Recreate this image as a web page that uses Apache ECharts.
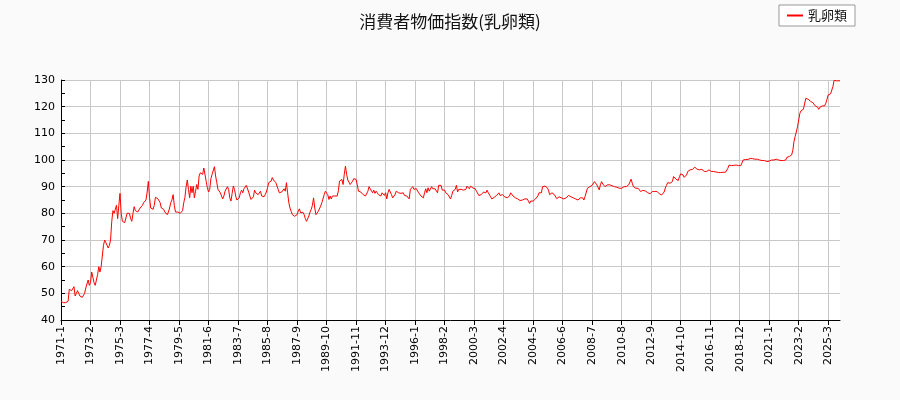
<!DOCTYPE html>
<html>
<head>
<meta charset="utf-8">
<script src="https://cdn.jsdelivr.net/npm/echarts@6/dist/echarts.min.js"></script>
<style>html,body{margin:0;padding:0;background:#fafafa}#c{width:900px;height:400px}</style>
</head>
<body>
<div id="c"></div>
<script>
const titleText = '消費者物価指数(乳卵類)';
const seriesName = '乳卵類';
const startYear = 1971, startMonth = 1;
const yTicks = [40, 50, 60, 70, 80, 90, 100, 110, 120, 130];

const v1970s = [
  47.0, 46.5, 46.5, 46.0, 46.5, 47.0, 47.0, 51.5, 51.0, 51.0, 51.5, 52.5,
  49.0, 50.0, 51.0, 50.0, 49.0, 48.5, 48.5, 49.0, 50.0, 52.0, 53.5, 55.0,
  53.0, 54.0, 58.0, 56.0, 54.0, 53.0, 53.5, 57.0, 60.0, 58.0, 60.0, 64.0,
  68.0, 70.0, 69.0, 69.0, 67.0, 68.0, 70.0, 77.0, 81.0, 80.0, 81.5, 83.0,
  78.0, 83.0, 87.5, 80.0, 77.0, 76.5, 76.5, 76.0, 80.0, 80.0, 80.0, 78.0,
  77.0, 80.0, 82.5, 81.0, 81.0, 80.5, 81.0, 82.0, 82.5, 83.0, 84.0, 84.5,
  85.0, 88.0, 92.0, 86.0, 82.0, 81.5, 81.5, 83.0, 86.0, 85.5, 85.5, 86.0,
  84.0, 82.0, 81.5, 81.5, 80.5, 80.0, 79.5, 80.5, 82.0, 84.0, 85.0, 87.0,
  83.0, 80.5, 81.0, 80.5, 80.5, 80.0, 80.5, 81.0, 84.0, 86.0, 90.0, 92.5
];
const v1980s = [
  89.0, 85.8, 90.2, 87.7, 90.2, 85.8, 88.3, 90.8, 89.0, 94.0, 95.2, 95.9,
  94.6, 97.0, 97.7, 92.0, 89.6, 88.0, 89.0, 93.0, 94.6, 95.2, 97.5, 94.0,
  91.5, 89.0, 88.3, 87.7, 86.5, 85.4, 86.5, 88.3, 89.0, 90.0, 89.0, 85.8,
  84.6, 87.5, 90.2, 89.0, 86.5, 85.0, 85.2, 85.8, 87.7, 88.7, 87.7, 89.2,
  89.6, 90.5, 90.2, 88.0, 86.5, 85.2, 84.6, 86.2, 88.7, 87.7, 88.3, 87.0,
  86.5, 88.3, 86.5, 87.0, 86.2, 87.0, 88.0, 89.6, 91.5, 91.7, 92.1, 93.4,
  92.5, 92.1, 91.5, 91.5, 89.0, 87.7, 87.5, 88.0, 87.7, 89.2, 88.3, 91.5,
  87.7, 84.0, 82.0, 80.8, 79.5, 78.9, 78.9, 79.2, 79.5, 80.8, 81.7, 80.2,
  79.8, 80.4, 79.5, 78.0, 77.0, 77.5, 79.0, 80.5, 81.5, 83.0, 85.8, 82.0,
  79.5, 80.2, 80.8, 81.4, 82.7, 84.0, 84.6, 87.0, 88.3, 89.0, 87.0, 85.2
];
const v1990s = [
  86.5, 85.4, 86.5, 85.8, 86.5, 85.8, 86.5, 88.5, 92.1, 91.5, 92.7, 90.8,
  94.6, 97.7, 94.6, 92.5, 91.7, 90.8, 91.5, 92.0, 93.0, 93.7, 92.7, 90.8,
  88.3, 88.7, 88.0, 87.5, 87.0, 87.0, 86.5, 86.2, 88.3, 90.0, 89.2, 89.2,
  87.7, 88.7, 87.5, 88.3, 87.7, 87.0, 87.7, 86.5, 87.7, 87.0, 86.7, 87.7,
  85.4, 87.7, 89.0, 88.3, 87.0, 85.8, 85.4, 87.0, 88.3, 88.7, 87.7, 88.0,
  87.5, 87.5, 87.7, 86.7, 86.7, 86.5, 85.8, 85.4, 89.0, 89.2, 90.0, 89.0,
  89.6, 89.3, 89.0, 87.7, 87.0, 86.5, 86.5, 85.8, 87.7, 89.2, 87.7, 89.6,
  88.3, 89.0, 90.0, 89.2, 88.7, 89.2, 88.7, 87.7, 90.5, 90.5, 90.5, 88.7,
  88.2, 88.7, 87.7, 88.0, 87.0, 86.5, 85.4, 86.7, 88.3, 88.3, 89.0, 90.5,
  88.0, 89.0, 88.3, 89.0, 89.6, 88.7, 88.0, 89.0, 90.2, 89.6, 89.2, 90.2
];
const v2000s = [
  90.0, 89.5, 90.0, 89.2, 88.3, 87.7, 86.7, 86.7, 87.0, 87.5, 88.0, 88.0,
  87.7, 88.7, 87.7, 87.0, 86.2, 85.4, 85.4, 86.0, 86.5, 86.7, 87.0, 87.7,
  86.7, 86.2, 87.0, 86.7, 86.2, 86.5, 85.8, 85.4, 86.5, 87.7, 88.0, 86.5,
  86.2, 85.8, 85.8, 85.4, 85.2, 84.8, 84.6, 85.0, 85.4, 85.4, 85.8, 85.4,
  84.6, 83.7, 84.6, 84.6, 84.6, 84.6, 85.4, 85.4, 86.5, 87.7, 88.3, 87.7,
  90.0, 90.5, 90.2, 90.5, 89.6, 88.7, 87.0, 86.5, 87.7, 87.0, 87.0, 86.5,
  85.5, 85.2, 86.2, 86.2, 85.8, 85.8, 85.4, 85.2, 85.8, 86.5, 86.7, 86.5,
  86.2, 86.0, 85.8, 85.8, 85.4, 85.2, 85.0, 85.0, 85.8, 85.8, 85.8, 85.0,
  86.3, 86.6, 89.4, 89.8, 90.0, 90.0, 90.5, 91.0, 91.9, 91.3, 90.7, 91.3,
  88.8, 90.7, 91.9, 91.0, 90.7, 90.0, 89.8, 90.7, 91.0, 90.7, 91.0, 90.3
];
const v2010s = [
  90.2, 90.0, 89.8, 89.8, 89.4, 89.4, 89.2, 89.4, 89.8, 90.0, 90.3, 90.0,
  90.3, 90.7, 90.7, 92.8, 91.3, 90.0, 89.4, 89.4, 89.4, 89.4, 89.0, 88.2,
  88.8, 88.6, 88.6, 88.4, 88.2, 87.8, 87.6, 87.3, 87.6, 88.2, 88.6, 88.2,
  88.2, 88.2, 87.8, 87.3, 86.9, 86.9, 87.3, 88.0, 89.5, 90.5, 91.5, 91.9,
  91.3, 91.9, 91.9, 93.8, 93.5, 92.8, 92.5, 92.3, 93.8, 94.8, 94.8, 94.4,
  93.5, 93.2, 94.4, 95.7, 96.3, 96.3, 96.3, 96.5, 96.9, 97.3, 97.3, 96.5,
  96.3, 96.3, 96.5, 96.5, 96.3, 95.7, 95.7, 95.7, 96.0, 96.3, 96.0, 95.7,
  95.7, 95.7, 95.7, 95.5, 95.3, 95.3, 95.3, 95.3, 95.4, 95.4, 95.4, 95.4,
  95.4, 96.9, 98.1, 98.1, 97.9, 98.1, 98.0, 97.9, 98.1, 98.0, 97.9, 97.9,
  97.9, 97.8, 100.0, 100.3, 100.2, 100.0, 100.2, 100.3, 100.6, 100.6, 100.5, 100.3
];
const v2020s = [
  100.3, 100.3, 100.3, 100.2, 100.0, 100.0, 99.8, 99.8, 99.8, 99.6, 99.4, 99.4,
  99.6, 99.8, 100.0, 100.0, 100.0, 100.0, 100.3, 100.6, 100.0, 99.4, 99.8, 99.8,
  99.8, 100.3, 100.0, 101.0, 101.3, 101.3, 101.3, 101.9, 103.5, 106.9, 108.8, 110.5,
  112.5, 115.0, 117.5, 118.5, 118.8, 119.0, 119.0, 123.1, 123.1, 122.8, 122.5, 122.0,
  121.9, 121.5, 121.3, 120.3, 120.0, 119.8, 119.0, 119.8, 120.0, 120.3, 120.0, 120.3,
  121.3, 122.8, 124.4, 125.0, 124.8, 125.0, 127.5, 129.9, 129.8, 129.7, 129.7, 129.7,
  129.7
];

const values = [].concat(v1970s, v1980s, v1990s, v2000s, v2010s, v2020s);
const categories = [];
for (let k = 0; k < values.length; k++) {
  const m = startMonth - 1 + k;
  categories.push((startYear + Math.floor(m / 12)) + '-' + (m % 12 + 1));
}

const chart = echarts.init(document.getElementById('c'), null, {renderer: 'canvas'});
chart.setOption({
  backgroundColor: '#fafafa',
  animation: false,
  title: {
    text: titleText, left: 'center', top: 8,
    textStyle: {fontSize: 17, fontWeight: 'normal', color: '#111', fontFamily: 'Noto Sans CJK JP'}
  },
  legend: {
    data: [seriesName], right: 45, top: 5,
    backgroundColor: '#ffffff', borderColor: '#999', borderWidth: 1, borderRadius: 0,
    padding: [4, 8], icon: 'rect', itemWidth: 16, itemHeight: 2, itemGap: 6,
    textStyle: {fontSize: 13, color: '#111', fontFamily: 'Noto Sans CJK JP'}
  },
  grid: {left: 61, right: 60, top: 80, bottom: 80, show: true, backgroundColor: '#ffffff', borderWidth: 0},
  xAxis: {
    type: 'category', data: categories, boundaryGap: false,
    axisLine: {lineStyle: {color: '#000'}},
    axisTick: {interval: 24, length: 5, lineStyle: {color: '#000'}},
    axisLabel: {interval: 24, rotate: 90, fontSize: 11, color: '#000', fontFamily: 'DejaVu Sans', margin: 6},
    splitLine: {show: true, interval: 24, lineStyle: {color: '#c8c8c8'}}
  },
  yAxis: {
    type: 'value', min: yTicks[0], max: yTicks[yTicks.length - 1], interval: 10,
    axisLine: {show: true, lineStyle: {color: '#000'}},
    axisTick: {show: true, inside: true, length: 4, lineStyle: {color: '#000'}},
    minorTick: {show: true, splitNumber: 2, length: 4, lineStyle: {color: '#000'}},
    axisLabel: {fontSize: 11, color: '#000', fontFamily: 'DejaVu Sans', margin: 6},
    splitLine: {show: true, lineStyle: {color: '#c8c8c8'}}
  },
  series: [{
    name: seriesName, type: 'line', data: values, showSymbol: false, symbol: 'none',
    lineStyle: {color: '#ff0000', width: 1}, itemStyle: {color: '#ff0000'}
  }]
});
</script>
</body>
</html>
